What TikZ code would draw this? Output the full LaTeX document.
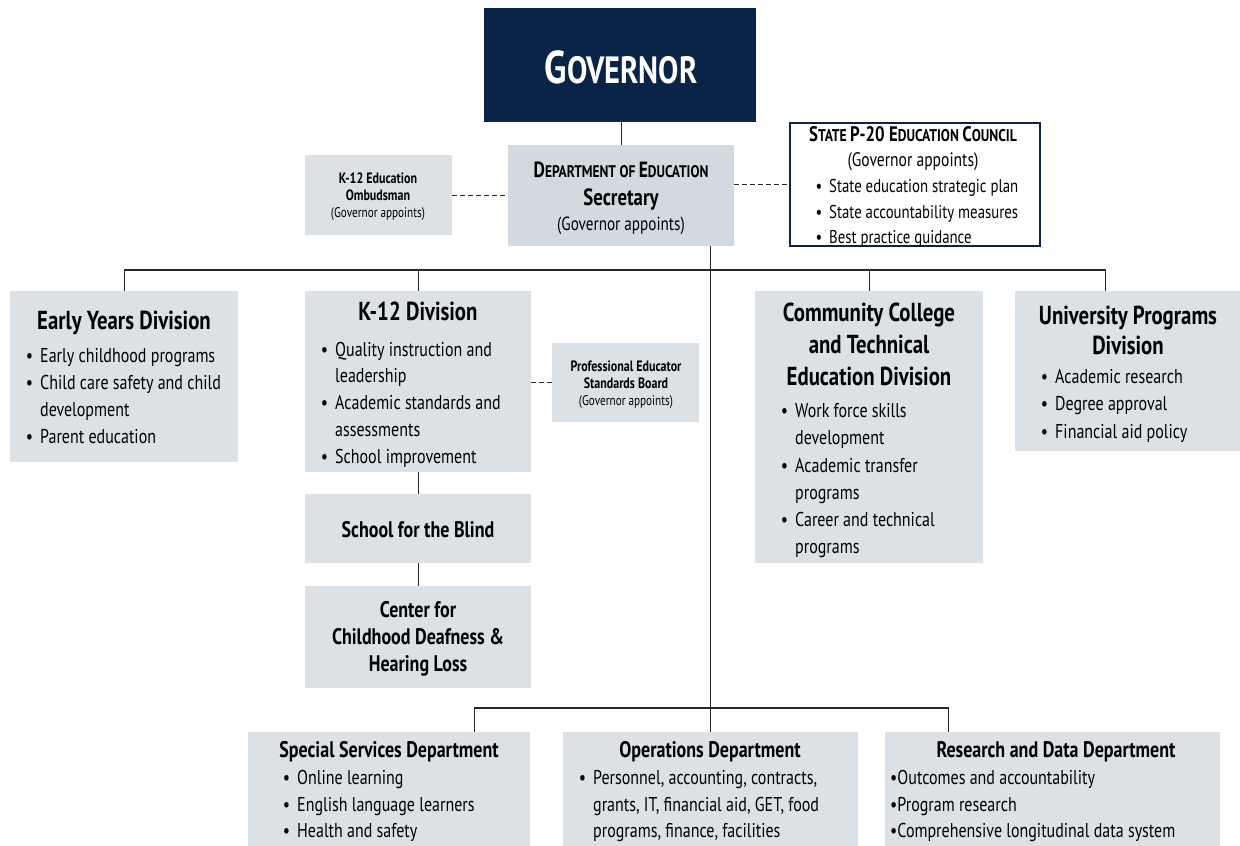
\documentclass[tikz,border=0pt]{standalone}
\usepackage{fontspec}
\setmainfont{PT Sans}[FakeStretch=0.8]
\usetikzlibrary{positioning}

\definecolor{navy}{RGB}{10,36,72}
\definecolor{boxgray}{RGB}{220,225,229}
\definecolor{deptgray}{RGB}{210,218,224}
\definecolor{linegray}{RGB}{40,40,40}

% bullet hanging to the left of the text
\newcommand{\bl}{\llap{\textbullet\hspace{7pt}}}
% faked small capitals: big letter, small rest
\newcommand{\capsm}[4]{{\fontsize{#1}{#1}\selectfont #3}{\fontsize{#2}{#2}\selectfont #4}}

\tikzset{
  box/.style={rectangle, fill=boxgray, anchor=north west, inner sep=0pt},
  txt/.style={anchor=base west, inner sep=0pt, font=\fontsize{20}{24}\selectfont},
  ttl/.style={anchor=base, inner sep=0pt, font=\bfseries\fontsize{26}{30}\selectfont},
  subttl/.style={anchor=base, inner sep=0pt, font=\bfseries\fontsize{22.5}{27}\selectfont},
  small/.style={anchor=base, inner sep=0pt, font=\bfseries\fontsize{15}{18}\selectfont},
  tiny/.style={anchor=base, inner sep=0pt, font=\fontsize{14}{17}\selectfont},
  link/.style={draw=linegray, line width=1.1pt},
  aux/.style={link, dash pattern=on 5pt off 3pt}
}

\begin{document}
\begin{tikzpicture}[x=1pt,y=-1pt]
\useasboundingbox (0,0) rectangle (1240,846);

% top
\node[box, fill=navy, minimum width=272, minimum height=114] (gov) at (484,8) {};
\node[anchor=base, text=white, font=\bfseries] at (621,83) {\capsm{46}{38}{G}{OVERNOR}};

\node[box, fill=deptgray, minimum width=226, minimum height=101] (dept) at (508,145) {};
\node[anchor=base, font=\bfseries] at (621,177) {\capsm{22}{16.8}{D}{EPARTMENT OF }\capsm{22}{16.8}{E}{DUCATION}};
\node[ttl, font=\bfseries\fontsize{23.5}{27}\selectfont] at (621,205) {Secretary};
\node[txt, anchor=base, font=\fontsize{19}{22}\selectfont] at (621,230) {(Governor appoints)};

\node[box, minimum width=147, minimum height=80] (ombud) at (305,155) {};
\node[small] at (378,183) {K-12 Education};
\node[small] at (378,200) {Ombudsman};
\node[tiny] at (378,217) {(Governor appoints)};

\node[box, fill=white, draw=navy, line width=1.5pt, minimum width=250, minimum height=123] (council) at (789,122) {};
\node[anchor=base, font=\bfseries] at (913,141) {\capsm{21}{17}{S}{TATE }\capsm{21}{17}{P-20 E}{DUCATION }\capsm{21}{17}{C}{OUNCIL}};
\node[txt, anchor=base, font=\fontsize{19.5}{23}\selectfont] at (913,166) {(Governor appoints)};
\foreach \y/\t in {192/{State education strategic plan}, 218/{State accountability measures}, 243/{Best practice guidance}}
  \node[txt, font=\fontsize{18.5}{22}\selectfont] at (829,\y) {\bl\t};

% divisions
\node[box, minimum width=228, minimum height=171] (early) at (10,291) {};
\node[ttl] at (124,329) {Early Years Division};
\foreach \y/\t in {362/{\bl Early childhood programs}, 389/{\bl Child care safety and child}, 416/development, 443/{\bl Parent education}}
  \node[txt] at (40,\y) {\t};

\node[box, minimum width=226, minimum height=181] (kdiv) at (305,291) {};
\node[ttl] at (418,320) {K-12 Division};
\foreach \y/\t in {356/{\bl Quality instruction and}, 382/leadership, 409/{\bl Academic standards and}, 436/assessments, 463/{\bl School improvement}}
  \node[txt] at (335,\y) {\t};

\node[box, minimum width=147, minimum height=79] (pesb) at (552,343) {};
\node[small] at (626,371) {Professional Educator};
\node[small] at (626,388) {Standards Board};
\node[tiny] at (626,405) {(Governor appoints)};

\node[box, minimum width=228, minimum height=272] (ccte) at (755,291) {};
\foreach \y/\t in {321/{Community College}, 353/{and Technical}, 385/{Education Division}}
  \node[ttl] at (869,\y) {\t};
\foreach \y/\t in {417/{\bl Work force skills}, 444/development, 472/{\bl Academic transfer}, 499/programs, 526/{\bl Career and technical}, 553/programs}
  \node[txt] at (795,\y) {\t};

\node[box, minimum width=225, minimum height=160] (univ) at (1015,291) {};
\node[ttl] at (1128,324) {University Programs};
\node[ttl] at (1128,354) {Division};
\foreach \y/\t in {383/{Academic research}, 410/{Degree approval}, 438/{Financial aid policy}}
  \node[txt] at (1055,\y) {\bl\t};

\node[box, minimum width=226, minimum height=69] (blind) at (305,494) {};
\node[subttl] at (418,537) {School for the Blind};

\node[box, minimum width=226, minimum height=102] (deaf) at (305,586) {};
\foreach \y/\t in {617/{Center for}, 644/{Childhood Deafness \&}, 671/{Hearing Loss}}
  \node[subttl] at (418,\y) {\t};

% departments
\node[box, minimum width=282, minimum height=120] (spec) at (248,732) {};
\node[subttl] at (389,757) {Special Services Department};
\foreach \y/\t in {784/{Online learning}, 811/{English language learners}, 837/{Health and safety}}
  \node[txt] at (297,\y) {\bl\t};

\node[box, minimum width=295, minimum height=120] (oper) at (563,732) {};
\node[subttl] at (710,757) {Operations Department};
\foreach \y/\t in {784/{\bl Personnel, accounting, contracts,}, 811/{grants, IT, financial aid, GET, food}, 837/{programs, finance, facilities}}
  \node[txt] at (593,\y) {\t};

\node[box, minimum width=335, minimum height=120] (resd) at (885,732) {};
\node[subttl] at (1056,757) {Research and Data Department};
\foreach \y/\t in {784/{Outcomes and accountability}, 811/{Program research}, 837/{Comprehensive longitudinal data system}}
  \node[txt] at (890,\y) {\textbullet\t};

% connectors
\coordinate (bus) at (710,270);
\coordinate (lowbus) at (710,708);
\draw[link] (gov.south -| dept.north) -- (dept.north);
\draw[aux] (ombud.east) -- (ombud.east -| dept.west);
\draw[aux] (dept.east |- council.west) -- (council.west);
\draw[link] (dept.south -| oper.north) -- (oper.north);
\draw[link] (early.north) -- (early.north |- bus) -| ([xshift=-22]univ.north);
\draw[link] (kdiv.north) -- (kdiv.north |- bus);
\draw[link] (ccte.north) -- (ccte.north |- bus);
\draw[aux] (kdiv.east |- pesb.west) -- (pesb.west);
\draw[link] (kdiv.south) -- (blind.north);
\draw[link] (blind.south) -- (deaf.north);
\draw[link] ([xshift=85]spec.north |- lowbus) -- ([xshift=85]spec.north);
\draw[link] ([xshift=85]spec.north |- lowbus) -| ([xshift=-104]resd.north);
\end{tikzpicture}
\end{document}
